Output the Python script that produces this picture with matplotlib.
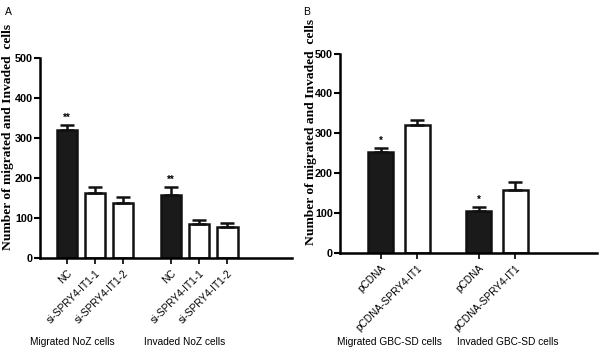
import matplotlib
matplotlib.use("Agg")
import matplotlib.pyplot as plt
import numpy as np

# ---- data ----
a_labels = ["NC", "si-SPRY4-IT1-1", "si-SPRY4-IT1-2", "NC", "si-SPRY4-IT1-1", "si-SPRY4-IT1-2"]
a_values = [322, 164, 139, 158, 87, 79]
a_errors = [12, 15, 15, 21, 9, 10]
a_black = [True, False, False, True, False, False]
a_stars = ["**", "", "", "**", "", ""]
a_groups = ["Migrated NoZ cells", "Invaded NoZ cells"]

b_labels = ["pCDNA", "pCDNA-SPRY4-IT1", "pCDNA", "pCDNA-SPRY4-IT1"]
b_values = [254, 321, 106, 158]
b_errors = [9, 13, 9, 21]
b_black = [True, False, True, False]
b_stars = ["*", "", "*", ""]
b_groups = ["Migrated GBC-SD cells", "Invaded GBC-SD cells"]

yticks = [0, 100, 200, 300, 400, 500]
ylabel = "Number of migrated and Invaded  cells"

SANS = "Liberation Sans"
SERIF = "Liberation Serif"

fig = plt.figure(figsize=(6.0, 3.52), dpi=100)


def panel(rect, labels, values, errors, black, stars, groups, xpos, width, xlim,
          letter, letter_xy, ylabel_xy, group_x, group_y):
    ax = fig.add_axes(rect)
    colors = ["#1a1a1a" if b else "white" for b in black]
    ax.bar(xpos, values, width=width, color=colors, edgecolor="#111111",
           linewidth=1.8, zorder=2)
    ax.errorbar(xpos, values, yerr=[np.zeros(len(values)), errors], fmt="none",
                ecolor="#111111", elinewidth=1.8, capsize=5, capthick=1.8, zorder=3)
    for x, v, e, s in zip(xpos, values, errors, stars):
        if s:
            ax.text(x, v + e + 6, s, ha="center", va="bottom", fontsize=7,
                    fontweight="bold", family=SANS)
    ax.set_xlim(*xlim)
    ax.set_ylim(0, 500)
    ax.set_yticks(yticks)
    ax.set_yticklabels([str(t) for t in yticks], fontsize=7.8, fontweight="bold",
                       family=SANS)
    ax.set_xticks(xpos)
    ax.set_xticklabels(labels, rotation=45, ha="right", rotation_mode="anchor",
                       fontsize=7.3, family=SANS)
    ax.tick_params(axis="y", direction="out", length=4, width=1.5, pad=1)
    ax.tick_params(axis="x", direction="out", length=4, width=1.2, pad=3)
    for sp in ["top", "right"]:
        ax.spines[sp].set_visible(False)
    for sp in ["left", "bottom"]:
        ax.spines[sp].set_linewidth(1.8)
    fig.text(ylabel_xy[0], ylabel_xy[1], ylabel, rotation=90,
             ha="center", va="center", fontsize=9.7, fontweight="bold", family=SERIF)
    fig.text(letter_xy[0], letter_xy[1], letter, fontsize=7.5, family=SANS,
             ha="left", va="center")
    for gx, g in zip(group_x, groups):
        fig.text(gx, group_y, g, fontsize=7.3, family=SANS, ha="center", va="center")
    return ax


panel([0.0667, 0.266, 0.4203, 0.568], a_labels, a_values, a_errors, a_black, a_stars,
      a_groups, np.array([0, 1, 2, 3.7, 4.7, 5.7]), 0.72, (-0.95, 8.0),
      "A", (0.008, 0.966), (0.014, 0.612), [72.5 / 600, 185 / 600], 1 - 342 / 352)

panel([0.5667, 0.280, 0.4283, 0.568], b_labels, b_values, b_errors, b_black, b_stars,
      b_groups, np.array([0, 1, 2.68, 3.68]), 0.68, (-1.12, 5.92),
      "B", (0.505, 0.966), (0.518, 0.625), [389 / 600, 508 / 600], 1 - 342 / 352)

fig.savefig("out.png", dpi=100)
